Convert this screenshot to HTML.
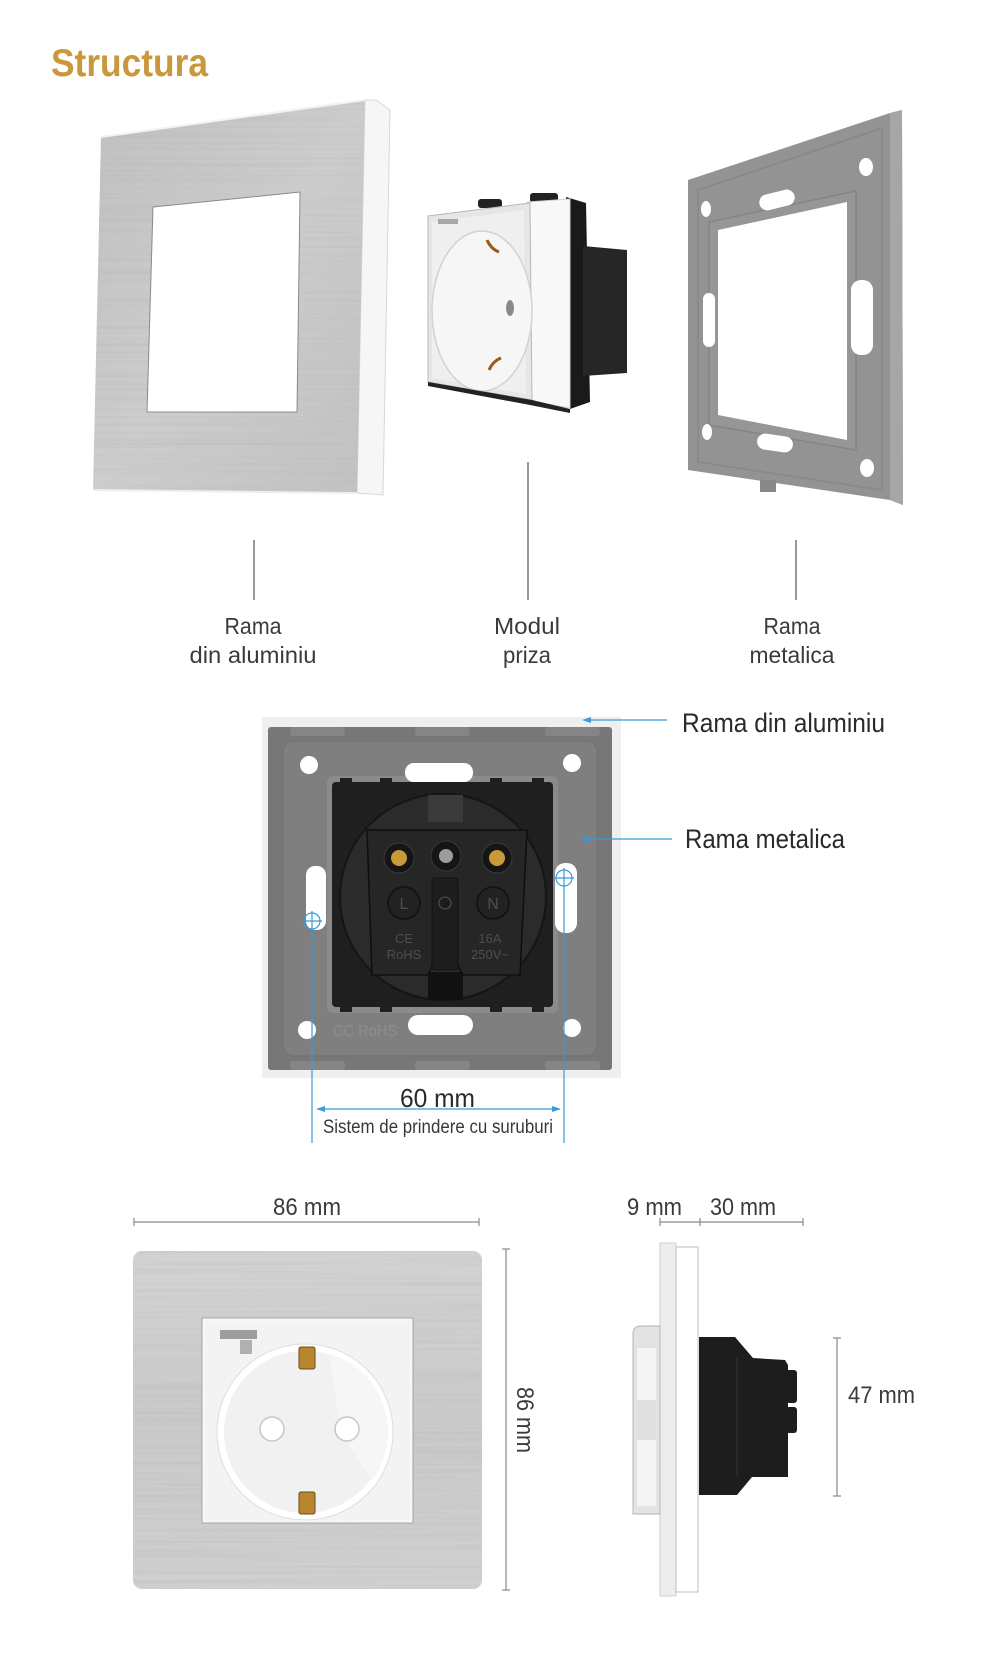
<!DOCTYPE html>
<html><head><meta charset="utf-8">
<style>
html,body{margin:0;padding:0;background:#fff;}
svg{display:block;}
text{font-family:"Liberation Sans",sans-serif;}
</style></head><body>
<svg width="1000" height="1655" viewBox="0 0 1000 1655" xmlns="http://www.w3.org/2000/svg">
<defs>
 <linearGradient id="alu1" x1="0" y1="0" x2="1" y2="1">
  <stop offset="0" stop-color="#c0c0c0"/><stop offset="0.5" stop-color="#cdcdcd"/><stop offset="1" stop-color="#c2c2c2"/>
 </linearGradient>
 <linearGradient id="alu3" x1="0" y1="0" x2="0" y2="1">
  <stop offset="0" stop-color="#d3d3d3"/><stop offset="0.5" stop-color="#cacaca"/><stop offset="1" stop-color="#d0d0d0"/>
 </linearGradient>
 <filter id="brushed" x="0" y="0" width="100%" height="100%">
  <feTurbulence type="fractalNoise" baseFrequency="0.003 0.35" numOctaves="2" seed="5" result="n"/>
  <feColorMatrix in="n" type="matrix" values="0 0 0 0 0.4  0 0 0 0 0.4  0 0 0 0 0.4  0.5 0 0 0 -0.2" result="s"/>
  <feComposite in="s" in2="SourceGraphic" operator="in" result="c"/>
  <feMerge><feMergeNode in="SourceGraphic"/><feMergeNode in="c"/></feMerge>
 </filter>
</defs>

<!-- Title -->
<text x="51" y="76" font-size="39" font-weight="bold" fill="#c8983a" textLength="157" lengthAdjust="spacingAndGlyphs">Structura</text>

<!-- ===== Section 1: aluminium frame ===== -->
<polygon points="365,100 376,100 390,110 383,495 357,493" fill="#f6f6f6" stroke="#d8d8d8" stroke-width="1"/>
<polygon points="101,137 365,100 357,493 93,490" fill="url(#alu1)" filter="url(#brushed)"/>
<line x1="101" y1="137" x2="365" y2="100" stroke="#f2f2f2" stroke-width="2"/>
<line x1="93" y1="490" x2="357" y2="493" stroke="#eeeeee" stroke-width="2"/>
<polygon points="153,207 300,192 297,412 147,412" fill="#ffffff" stroke="#8a8a8a" stroke-width="1" stroke-linejoin="round"/>

<!-- socket module -->
<polygon points="566,197 586,203 590,402 570,409" fill="#1a1a1a"/>
<polygon points="583,246 627,250 627,373 583,376" fill="#262626"/>
<rect x="478" y="199" width="24" height="9" rx="3" fill="#222"/>
<rect x="530" y="193" width="28" height="10" rx="3" fill="#222"/>
<polygon points="527,202 570,199 570,408 530,401" fill="#f8f8f8" stroke="#cfcfcf" stroke-width="1"/>
<polygon points="428,216 530,203 532,400 428,382" fill="#e6e6e6" stroke="#b8b8b8" stroke-width="1"/>
<polygon points="432,222 524,210 526,394 432,378" fill="#efefef"/>
<ellipse cx="482" cy="311" rx="50" ry="80" fill="#f6f6f6" stroke="#d2d2d2" stroke-width="1.5"/>
<ellipse cx="510" cy="308" rx="4" ry="8" fill="#8a8a8a"/>
<path d="M487,240 q4,9 12,12" stroke="#9a5a1a" stroke-width="3" fill="none"/>
<path d="M489,370 q4,-9 12,-12" stroke="#9a5a1a" stroke-width="3" fill="none"/>
<rect x="438" y="219" width="20" height="5" fill="#a8a8a8"/>
<polygon points="428,382 532,400 570,409 570,413 530,405 428,386" fill="#222"/>

<!-- metal frame -->
<polygon points="688,180 890,113 902,110 903,505 890,500 688,470" fill="#939393"/>
<polygon points="890,113 902,110 903,505 890,500" fill="#a6a6a6"/>
<polygon points="698,190 882,128 882,490 698,462" fill="none" stroke="#878787" stroke-width="1.5"/>
<polygon points="709,222 856,191 856,450 709,425" fill="#969696" stroke="#858585" stroke-width="1.5"/>
<polygon points="718,230 847,202 847,440 718,415" fill="#ffffff"/>
<ellipse cx="866" cy="167" rx="7" ry="9" fill="#fff"/>
<ellipse cx="706" cy="209" rx="5" ry="8" fill="#fff"/>
<ellipse cx="707" cy="432" rx="5" ry="8" fill="#fff"/>
<ellipse cx="867" cy="468" rx="7" ry="9" fill="#fff"/>
<rect x="759" y="192" width="36" height="16" rx="8" fill="#fff" transform="rotate(-14 777 200)"/>
<rect x="757" y="435" width="36" height="16" rx="8" fill="#fff" transform="rotate(8 775 443)"/>
<rect x="703" y="293" width="12" height="54" rx="6" fill="#fff"/>
<rect x="851" y="280" width="22" height="75" rx="10" fill="#fff"/>
<rect x="760" y="480" width="16" height="12" fill="#888"/>

<!-- leader lines -->
<line x1="254" y1="540" x2="254" y2="600" stroke="#333" stroke-width="1"/>
<line x1="528" y1="462" x2="528" y2="600" stroke="#333" stroke-width="1"/>
<line x1="796" y1="540" x2="796" y2="600" stroke="#333" stroke-width="1"/>

<g font-size="23" fill="#3a3a3a" text-anchor="middle">
 <text x="253" y="634" textLength="57" lengthAdjust="spacingAndGlyphs">Rama</text>
 <text x="253" y="663" textLength="127" lengthAdjust="spacingAndGlyphs">din aluminiu</text>
 <text x="527" y="634" textLength="66" lengthAdjust="spacingAndGlyphs">Modul</text>
 <text x="527" y="663" textLength="48" lengthAdjust="spacingAndGlyphs">priza</text>
 <text x="792" y="634" textLength="57" lengthAdjust="spacingAndGlyphs">Rama</text>
 <text x="792" y="663" textLength="85" lengthAdjust="spacingAndGlyphs">metalica</text>
</g>

<!-- ===== Section 2: back view ===== -->
<rect x="262" y="717" width="359" height="361" fill="#efefef"/>
<rect x="268" y="727" width="344" height="343" rx="3" fill="#777777"/>
<rect x="283" y="741" width="314" height="315" rx="10" fill="#7f7f7f" stroke="#737373" stroke-width="1.5"/>
<rect x="290" y="727" width="55" height="9" rx="3" fill="#858585"/>
<rect x="415" y="727" width="55" height="9" rx="3" fill="#858585"/>
<rect x="545" y="727" width="55" height="9" rx="3" fill="#858585"/>
<rect x="290" y="1061" width="55" height="9" rx="3" fill="#858585"/>
<rect x="415" y="1061" width="55" height="9" rx="3" fill="#858585"/>
<rect x="545" y="1061" width="55" height="9" rx="3" fill="#858585"/>
<!-- module recess -->
<rect x="327" y="776" width="231" height="237" rx="6" fill="#8b8b8b"/>
<!-- holes -->
<circle cx="309" cy="765" r="9" fill="#fff"/>
<circle cx="572" cy="763" r="9" fill="#fff"/>
<circle cx="307" cy="1030" r="9" fill="#fff"/>
<circle cx="572" cy="1028" r="9" fill="#fff"/>
<rect x="405" y="763" width="68" height="19" rx="9" fill="#fff"/>
<rect x="408" y="1015" width="65" height="20" rx="10" fill="#fff"/>
<rect x="306" y="866" width="20" height="64" rx="9" fill="#fff"/>
<rect x="555" y="863" width="22" height="70" rx="10" fill="#fff"/>
<!-- module -->
<rect x="332" y="782" width="221" height="225" rx="4" fill="#1f1f1f"/>
<rect x="340" y="778" width="12" height="8" fill="#1f1f1f"/>
<rect x="380" y="778" width="12" height="8" fill="#1f1f1f"/>
<rect x="490" y="778" width="12" height="8" fill="#1f1f1f"/>
<rect x="532" y="778" width="12" height="8" fill="#1f1f1f"/>
<rect x="340" y="1004" width="12" height="8" fill="#1f1f1f"/>
<rect x="380" y="1004" width="12" height="8" fill="#1f1f1f"/>
<rect x="490" y="1004" width="12" height="8" fill="#1f1f1f"/>
<rect x="532" y="1004" width="12" height="8" fill="#1f1f1f"/>
<circle cx="443" cy="897" r="103" fill="#2b2b2b" stroke="#151515" stroke-width="2"/>
<rect x="428" y="795" width="35" height="27" fill="#3a3a3a"/>
<rect x="428" y="972" width="35" height="28" fill="#111"/>
<path d="M367,830 L527,830 L520,975 L463,975 L455,960 L435,960 L428,975 L372,975 Z" fill="#262626" stroke="#0e0e0e" stroke-width="1.5"/>
<rect x="432" y="878" width="26" height="92" rx="3" fill="#1d1d1d" stroke="#111" stroke-width="1"/>
<circle cx="399" cy="858" r="15" fill="#151515" stroke="#3a3a3a" stroke-width="1"/>
<circle cx="446" cy="856" r="15" fill="#151515" stroke="#3a3a3a" stroke-width="1"/>
<circle cx="497" cy="858" r="15" fill="#151515" stroke="#3a3a3a" stroke-width="1"/>
<circle cx="399" cy="858" r="8" fill="#c99a3a"/>
<circle cx="497" cy="858" r="8" fill="#c99a3a"/>
<circle cx="446" cy="856" r="7" fill="#9c9c9c"/>
<circle cx="404" cy="903" r="16" fill="#222" stroke="#111" stroke-width="1.5"/>
<circle cx="493" cy="903" r="16" fill="#222" stroke="#111" stroke-width="1.5"/>
<circle cx="445" cy="903" r="6" fill="none" stroke="#555" stroke-width="1"/>
<g fill="#4e4e4e" text-anchor="middle">
 <text x="404" y="909" font-size="16">L</text>
 <text x="493" y="909" font-size="16">N</text>
 <text x="404" y="943" font-size="13">CE</text>
 <text x="404" y="959" font-size="13">RoHS</text>
 <text x="490" y="943" font-size="13">16A</text>
 <text x="490" y="959" font-size="13">250V~</text>
</g>
<text x="333" y="1036" font-size="16" fill="#8e8e8e" textLength="64" lengthAdjust="spacingAndGlyphs">CC RoHS</text>

<!-- blue dimension system -->
<g stroke="#3b9ad8" stroke-width="1.2" fill="none">
 <circle cx="312" cy="921" r="8"/>
 <line x1="302" y1="921" x2="322" y2="921"/>
 <line x1="312" y1="911" x2="312" y2="1143"/>
 <circle cx="564" cy="878" r="8"/>
 <line x1="554" y1="878" x2="574" y2="878"/>
 <line x1="564" y1="868" x2="564" y2="1143"/>
 <line x1="318" y1="1109" x2="559" y2="1109"/>
 <line x1="586" y1="720" x2="667" y2="720"/>
 <line x1="584" y1="839" x2="672" y2="839"/>
</g>
<g fill="#3b9ad8">
 <polygon points="316,1109 325,1106 325,1112"/>
 <polygon points="561,1109 552,1106 552,1112"/>
 <polygon points="582,720 591,717 591,723"/>
 <polygon points="580,839 589,836 589,842"/>
</g>
<g fill="#2a2a2a">
 <text x="682" y="732" font-size="27" textLength="203" lengthAdjust="spacingAndGlyphs">Rama din aluminiu</text>
 <text x="685" y="848" font-size="27" textLength="160" lengthAdjust="spacingAndGlyphs">Rama metalica</text>
 <text x="400" y="1107" font-size="26" textLength="75" lengthAdjust="spacingAndGlyphs">60 mm</text>
 <text x="323" y="1133" font-size="19" fill="#383838" textLength="230" lengthAdjust="spacingAndGlyphs">Sistem de prindere cu suruburi</text>
</g>

<!-- ===== Section 3: front view ===== -->
<g stroke="#8a8a8a" stroke-width="1.2">
 <line x1="134" y1="1222" x2="479" y2="1222"/>
 <line x1="134" y1="1218" x2="134" y2="1226"/>
 <line x1="479" y1="1218" x2="479" y2="1226"/>
 <line x1="506" y1="1249" x2="506" y2="1590"/>
 <line x1="502" y1="1249" x2="510" y2="1249"/>
 <line x1="502" y1="1590" x2="510" y2="1590"/>
 <line x1="660" y1="1222" x2="803" y2="1222"/>
 <line x1="660" y1="1218" x2="660" y2="1226"/>
 <line x1="700" y1="1218" x2="700" y2="1226"/>
 <line x1="803" y1="1218" x2="803" y2="1226"/>
 <line x1="837" y1="1338" x2="837" y2="1496"/>
 <line x1="833" y1="1338" x2="841" y2="1338"/>
 <line x1="833" y1="1496" x2="841" y2="1496"/>
</g>
<g fill="#3a3a3a" font-size="24">
 <text x="273" y="1215" textLength="68" lengthAdjust="spacingAndGlyphs">86 mm</text>
 <text x="627" y="1215" textLength="55" lengthAdjust="spacingAndGlyphs">9 mm</text>
 <text x="710" y="1215" textLength="66" lengthAdjust="spacingAndGlyphs">30 mm</text>
 <text x="848" y="1403" textLength="67" lengthAdjust="spacingAndGlyphs">47 mm</text>
 <text transform="translate(517,1387) rotate(90)" textLength="66" lengthAdjust="spacingAndGlyphs">86 mm</text>
</g>

<rect x="133" y="1251" width="349" height="338" rx="9" fill="url(#alu3)" filter="url(#brushed)"/>
<rect x="202" y="1318" width="211" height="205" fill="#f7f7f7" stroke="#a5a5a5" stroke-width="1"/>
<rect x="205" y="1321" width="205" height="199" fill="#f3f3f3"/>
<rect x="220" y="1330" width="37" height="9" fill="#9d9d9d"/>
<rect x="240" y="1340" width="12" height="14" fill="#b0b0b0"/>
<circle cx="305" cy="1432" r="88" fill="#ffffff" stroke="#dedede" stroke-width="1"/>
<circle cx="305" cy="1432" r="81" fill="#f1f1f1"/>
<path d="M330,1354 A81,81 0 0 1 372,1480 L340,1432 Z" fill="#f6f6f6"/>
<circle cx="272" cy="1429" r="12" fill="#fff" stroke="#c6c6c6" stroke-width="1.5"/>
<circle cx="347" cy="1429" r="12" fill="#fff" stroke="#c6c6c6" stroke-width="1.5"/>
<rect x="299" y="1347" width="16" height="22" rx="2" fill="#b8862e" stroke="#6a4a1a" stroke-width="1"/>
<rect x="299" y="1492" width="16" height="22" rx="2" fill="#b8862e" stroke="#6a4a1a" stroke-width="1"/>

<!-- side view -->
<rect x="660" y="1243" width="16" height="353" fill="#ededed" stroke="#d0d0d0" stroke-width="1"/>
<rect x="676" y="1247" width="22" height="345" fill="#ffffff" stroke="#bdbdbd" stroke-width="1"/>
<path d="M660,1326 L641,1326 Q633,1326 633,1334 L633,1514 L660,1514 Z" fill="#e3e3e3" stroke="#b5b5b5" stroke-width="1"/>
<rect x="637" y="1348" width="19" height="158" fill="#f4f4f4"/>
<rect x="637" y="1400" width="19" height="40" fill="#e0e0e0"/>
<path d="M699,1337 L735,1337 L753,1358 L785,1360 L788,1365 L788,1477 L752,1477 L737,1495 L699,1495 Z" fill="#1d1d1d"/>
<line x1="737" y1="1358" x2="737" y2="1477" stroke="#333" stroke-width="1"/>
<rect x="786" y="1370" width="11" height="33" rx="3" fill="#1d1d1d"/>
<rect x="786" y="1407" width="11" height="26" rx="3" fill="#1d1d1d"/>
</svg>
</body></html>
